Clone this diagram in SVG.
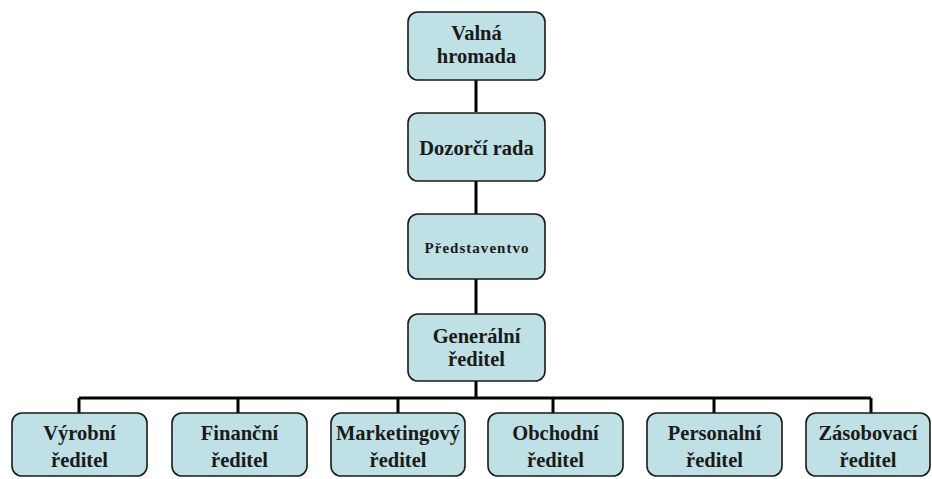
<svg xmlns="http://www.w3.org/2000/svg" width="932" height="479" viewBox="0 0 932 479">
<style>
.box{fill:#bfe0e4;stroke:#1a1a1a;stroke-width:1.6}
.t{font-family:'Liberation Serif','Times New Roman','DejaVu Serif',serif;font-weight:700;font-size:20.5px;fill:#1a1a1a;text-anchor:middle}
.c{fill:none;stroke:#000;stroke-width:3}
</style>
<rect width="932" height="479" fill="#fff"/>
<g id="connectors">
<path class="c" d="M476,80V112M476,181V214M476,279V314M476,381V398M79,398H871M79,398V413M238,398V413M398,398V413M553,398V413M714,398V413M871,398V413"/>
</g>
<g id="valna">
<rect class="box" x="408" y="12" width="137" height="68" rx="10"/>
<text class="t" x="476.5" y="40">Valná</text>
<text class="t" x="476.5" y="63">hromada</text>
</g>
<g id="dozorci">
<rect class="box" x="408" y="113" width="137" height="68" rx="10"/>
<text class="t" x="476.5" y="155">Dozorčí rada</text>
</g>
<g id="predstavenstvo">
<rect class="box" x="408" y="214" width="137" height="65" rx="10"/>
<text class="t" x="476.5" y="253" style="font-size:15px" textLength="104" lengthAdjust="spacing">Představentvo</text>
</g>
<g id="generalni">
<rect class="box" x="408" y="314" width="137" height="67" rx="10"/>
<text class="t" x="476.5" y="343">Generální</text>
<text class="t" x="476.5" y="366">ředitel</text>
</g>
<g id="vyrobni">
<rect class="box" x="12" y="413" width="135" height="63" rx="10"/>
<text class="t" x="79.5" y="440">Výrobní</text>
<text class="t" x="79.5" y="467">ředitel</text>
</g>
<g id="financni">
<rect class="box" x="172" y="413" width="135" height="63" rx="10"/>
<text class="t" x="239.5" y="440">Finanční</text>
<text class="t" x="239.5" y="467">ředitel</text>
</g>
<g id="marketingovy">
<rect class="box" x="331" y="413" width="134" height="63" rx="10"/>
<text class="t" x="398" y="440">Marketingový</text>
<text class="t" x="398" y="467">ředitel</text>
</g>
<g id="obchodni">
<rect class="box" x="488" y="413" width="135" height="63" rx="10"/>
<text class="t" x="555.5" y="440">Obchodní</text>
<text class="t" x="555.5" y="467">ředitel</text>
</g>
<g id="personalni">
<rect class="box" x="647" y="413" width="135" height="63" rx="10"/>
<text class="t" x="714.5" y="440">Personalní</text>
<text class="t" x="714.5" y="467">ředitel</text>
</g>
<g id="zasobovaci">
<rect class="box" x="806" y="413" width="124" height="63" rx="10"/>
<text class="t" x="868" y="440">Zásobovací</text>
<text class="t" x="868" y="467">ředitel</text>
</g>
</svg>
